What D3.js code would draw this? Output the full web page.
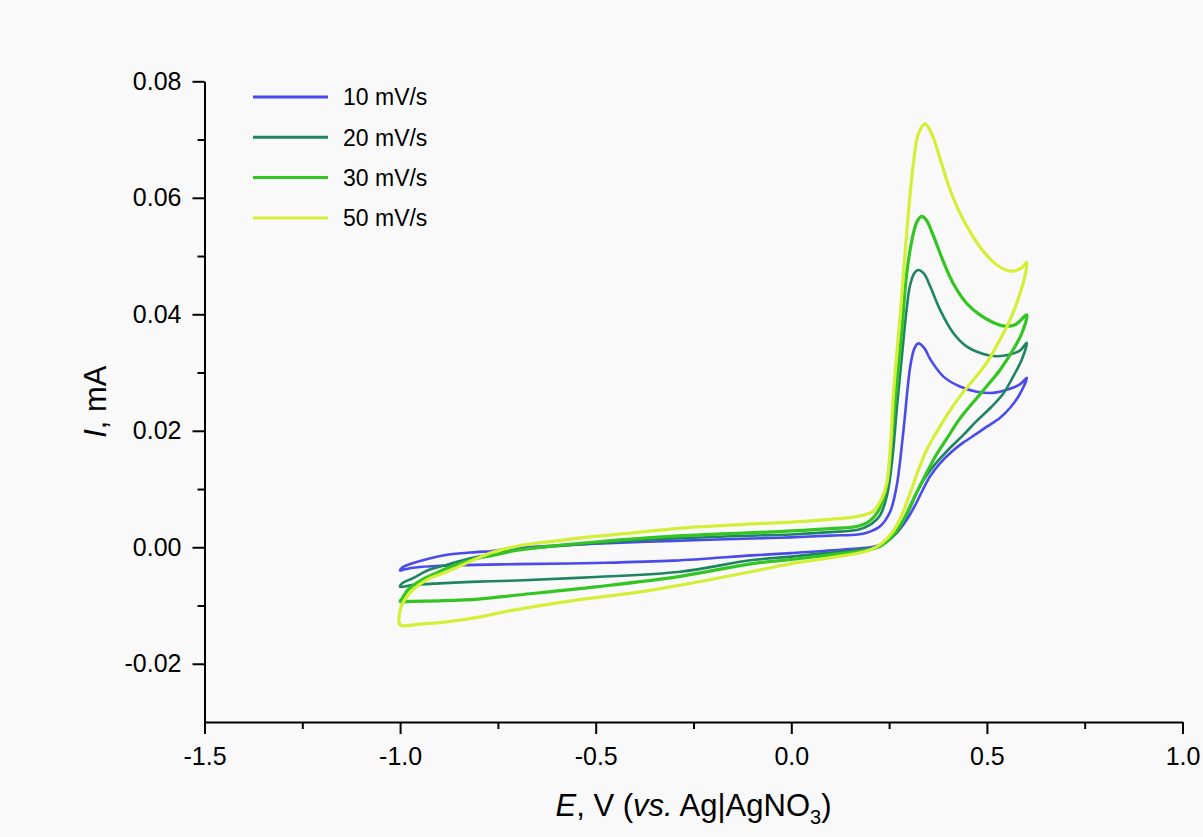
<!DOCTYPE html>
<html>
<head>
<meta charset="utf-8">
<script src="https://cdn.jsdelivr.net/npm/d3@7"></script>
<style>
  html, body { margin: 0; padding: 0; background: #f9f9f9; }
  svg { display: block; font-family: "Liberation Sans", Arial, sans-serif; }
</style>
</head>
<body>
<svg id="chart" width="1203" height="837"></svg>
<script>
// Cyclic voltammograms at four scan rates: [E (V), I (mA)] pairs along the scan.
const scanRates = ["10 mV/s", "20 mV/s", "30 mV/s", "50 mV/s"];
const seriesColors = ["#4a4aee", "#1f8462", "#33c522", "#d5ef38"];

const cv10 = [
  [-0.77,-0.0007],[-0.70,-0.0001],[-0.60,0.0003],[-0.50,0.0006],[-0.30,0.0011],[-0.10,0.0015],
  [0.00,0.0017],[0.10,0.0020],[0.17,0.0022],[0.193,0.0025],[0.227,0.0036],[0.252,0.0060],
  [0.269,0.0104],[0.286,0.0196],[0.304,0.0310],[0.315,0.0342],[0.325,0.0350],[0.34,0.0342],
  [0.355,0.0323],[0.389,0.0293],[0.431,0.0276],[0.474,0.0267],[0.516,0.0265],[0.559,0.0272],
  [0.585,0.0280],[0.602,0.0291],
  [0.585,0.0264],[0.56,0.0240],[0.533,0.0222],[0.50,0.0207],[0.474,0.0195],[0.44,0.0180],
  [0.41,0.0164],[0.38,0.0144],[0.354,0.0121],[0.335,0.0097],[0.315,0.0070],[0.295,0.0047],
  [0.27,0.0025],[0.24,0.0008],[0.21,0.0001],[0.15,-0.0003],[0.00,-0.0010],
  [-0.10,-0.0014],[-0.30,-0.0023],[-0.50,-0.0027],[-0.70,-0.0029],[-0.85,-0.0031],
  [-0.95,-0.0034],[-0.99,-0.0038],[-1.00,-0.0040],
  [-0.995,-0.0035],[-0.97,-0.0028],[-0.93,-0.0020],[-0.88,-0.0013],[-0.82,-0.0009],[-0.77,-0.0007]
];

const cv20 = [
  [-0.77,-0.0012],[-0.70,-0.0004],[-0.60,0.0002],[-0.50,0.0007],[-0.30,0.0015],[-0.10,0.0020],
  [0.00,0.0022],[0.10,0.0026],[0.17,0.0030],[0.20,0.0038],[0.227,0.0055],[0.245,0.0090],
  [0.258,0.0150],[0.27,0.0240],[0.283,0.0330],[0.295,0.0410],[0.303,0.0448],[0.314,0.0470],
  [0.325,0.0476],[0.34,0.0469],[0.355,0.0448],[0.38,0.0408],[0.414,0.0368],[0.448,0.0345],
  [0.491,0.0332],[0.525,0.0328],[0.559,0.0331],[0.585,0.0338],[0.602,0.0351],
  [0.589,0.0322],[0.567,0.0293],[0.542,0.0264],[0.51,0.0240],[0.474,0.0217],[0.44,0.0193],
  [0.405,0.0170],[0.38,0.0152],[0.354,0.0131],[0.335,0.0112],[0.32,0.0093],[0.295,0.0055],
  [0.265,0.0022],[0.23,0.0004],[0.20,-0.0002],[0.10,-0.0009],
  [0.00,-0.0016],[-0.10,-0.0022],[-0.284,-0.0042],[-0.50,-0.0051],[-0.70,-0.0057],
  [-0.80,-0.0059],[-0.90,-0.0062],[-0.97,-0.0065],[-1.00,-0.0068],
  [-0.995,-0.0062],[-0.967,-0.0053],[-0.93,-0.0040],[-0.88,-0.0030],[-0.82,-0.0019],[-0.77,-0.0012]
];

const cv30 = [
  [-0.77,-0.0015],[-0.70,-0.0005],[-0.60,0.0003],[-0.50,0.0009],[-0.30,0.0019],[-0.10,0.0025],
  [0.00,0.0028],[0.10,0.0032],[0.17,0.0036],[0.20,0.0045],[0.227,0.0068],[0.245,0.0110],
  [0.256,0.0180],[0.268,0.0270],[0.282,0.0368],[0.295,0.0470],[0.312,0.0539],[0.322,0.0560],
  [0.333,0.0568],[0.345,0.0562],[0.363,0.0535],[0.389,0.0490],[0.414,0.0453],[0.448,0.0419],
  [0.482,0.0399],[0.516,0.0386],[0.542,0.0380],[0.572,0.0382],[0.602,0.0399],
  [0.589,0.0367],[0.567,0.0339],[0.533,0.0304],[0.499,0.0276],[0.474,0.0256],[0.43,0.0220],
  [0.397,0.0186],[0.37,0.0158],[0.346,0.0128],[0.325,0.0100],[0.311,0.0081],[0.285,0.0045],
  [0.26,0.0020],[0.23,0.0003],[0.20,-0.0004],[0.10,-0.0013],
  [0.00,-0.0021],[-0.10,-0.0028],[-0.284,-0.0050],[-0.50,-0.0068],[-0.70,-0.0082],
  [-0.80,-0.0089],[-0.90,-0.0092],[-0.97,-0.0093],[-1.00,-0.0093],
  [-0.995,-0.0088],[-0.98,-0.0073],[-0.95,-0.0058],[-0.91,-0.0045],[-0.88,-0.0036],
  [-0.82,-0.0022],[-0.77,-0.0015]
];

const cv50 = [
  [-0.77,-0.0010],[-0.70,0.0002],[-0.60,0.0011],[-0.54,0.0016],[-0.40,0.0025],[-0.284,0.0033],
  [-0.10,0.0040],[0.00,0.0043],[0.10,0.0048],[0.17,0.0053],[0.209,0.0062],[0.232,0.0085],
  [0.244,0.0110],[0.253,0.0170],[0.26,0.0253],[0.268,0.0320],[0.278,0.0395],[0.295,0.0540],
  [0.311,0.0653],[0.325,0.0710],[0.342,0.0727],[0.36,0.0708],[0.38,0.0668],[0.40,0.0625],
  [0.42,0.0590],[0.44,0.0562],[0.465,0.0533],[0.491,0.0508],[0.516,0.0490],[0.542,0.0478],
  [0.567,0.0474],[0.589,0.0480],[0.602,0.0489],
  [0.597,0.0465],[0.585,0.0436],[0.559,0.0390],[0.533,0.0356],[0.499,0.0316],[0.465,0.0287],
  [0.431,0.0259],[0.40,0.0229],[0.37,0.0196],[0.346,0.0167],[0.325,0.0133],[0.311,0.0106],
  [0.295,0.0077],[0.285,0.0059],[0.26,0.0027],[0.23,0.0006],[0.20,-0.0005],[0.10,-0.0018],
  [0.00,-0.0028],[-0.08,-0.0039],[-0.284,-0.0065],[-0.40,-0.0078],[-0.54,-0.0090],
  [-0.71,-0.0108],[-0.80,-0.0120],[-0.88,-0.0128],[-0.95,-0.0132],[-1.00,-0.0133],
  [-1.00,-0.0108],[-0.99,-0.0092],[-0.967,-0.0073],[-0.93,-0.0055],[-0.88,-0.0042],
  [-0.82,-0.0024],[-0.77,-0.0010]
];

const allSeries = [cv10, cv20, cv30, cv50];

const xMajorTicks = [-1.5, -1.0, -0.5, 0.0, 0.5, 1.0];
const xMinorTicks = [-1.25, -0.75, -0.25, 0.25, 0.75];
const yMajorTicks = [-0.02, 0.00, 0.02, 0.04, 0.06, 0.08];
const yMinorTicks = [-0.01, 0.01, 0.03, 0.05, 0.07];

const W = 1203, H = 837;
const margin = { top: 81.3, right: 20.5, bottom: 115, left: 204.5 };

const svg = d3.select("#chart");
svg.append("rect").attr("width", W).attr("height", H).attr("fill", "#f9f9f9");

const x = d3.scaleLinear().domain([-1.5, 1.0]).range([margin.left, W - margin.right]);
const y = d3.scaleLinear().domain([-0.03, 0.08]).range([H - margin.bottom, margin.top]);

// Curves
const line = d3.line()
  .x(d => x(d[0]))
  .y(d => y(d[1]))
  .curve(d3.curveCatmullRom.alpha(0.5));

const widths = [2.6, 2.6, 3.2, 3.2];
svg.append("g").selectAll("path")
  .data(allSeries)
  .join("path")
  .attr("d", line)
  .attr("fill", "none")
  .attr("stroke", (d, i) => seriesColors[i])
  .attr("stroke-width", (d, i) => widths[i])
  .attr("stroke-linejoin", "round")
  .attr("stroke-linecap", "round");

// Axes
function styleAxis(g) {
  g.selectAll("path.domain").attr("stroke", "#000").attr("stroke-width", 2);
  g.selectAll(".tick line").attr("stroke", "#000").attr("stroke-width", 2);
  g.selectAll(".tick text").attr("fill", "#000").attr("font-size", 25)
    .attr("font-family", "'Liberation Sans', Arial, sans-serif");
}

svg.append("g")
  .attr("transform", `translate(0,${H - margin.bottom})`)
  .call(d3.axisBottom(x).tickValues(xMajorTicks).tickSize(12).tickSizeOuter(0)
    .tickPadding(13).tickFormat(d => d.toFixed(1)))
  .call(styleAxis);

svg.append("g")
  .attr("transform", `translate(0,${H - margin.bottom})`)
  .call(d3.axisBottom(x).tickValues(xMinorTicks).tickSize(7).tickFormat(""))
  .call(g => g.select(".domain").remove())
  .call(styleAxis);

svg.append("g")
  .attr("transform", `translate(${margin.left},0)`)
  .call(d3.axisLeft(y).tickValues(yMajorTicks).tickSize(12).tickSizeOuter(0)
    .tickPadding(11).tickFormat(d => d.toFixed(2)))
  .call(styleAxis);

svg.append("g")
  .attr("transform", `translate(${margin.left},0)`)
  .call(d3.axisLeft(y).tickValues(yMinorTicks).tickSize(7).tickFormat(""))
  .call(g => g.select(".domain").remove())
  .call(styleAxis);

// Axis titles
const xTitle = svg.append("text")
  .attr("x", (margin.left + W - margin.right) / 2)
  .attr("y", 816)
  .attr("text-anchor", "middle")
  .attr("font-size", 31)
  .attr("fill", "#000");
xTitle.append("tspan").attr("font-style", "italic").text("E");
xTitle.append("tspan").text(", V (");
xTitle.append("tspan").attr("font-style", "italic").text("vs.");
xTitle.append("tspan").text(" Ag|AgNO");
xTitle.append("tspan").attr("font-size", 20).attr("dy", 8).text("3");
xTitle.append("tspan").attr("dy", -8).text(")");

const yTitle = svg.append("text")
  .attr("transform", `translate(106,${(margin.top + H - margin.bottom) / 2}) rotate(-90)`)
  .attr("text-anchor", "middle")
  .attr("font-size", 31)
  .attr("fill", "#000");
yTitle.append("tspan").attr("font-style", "italic").text("I");
yTitle.append("tspan").text(", mA");

// Legend
const legend = svg.append("g").attr("transform", "translate(253,97)");
const rows = legend.selectAll("g")
  .data(scanRates)
  .join("g")
  .attr("transform", (d, i) => `translate(0,${i * 40.3})`);
rows.append("line")
  .attr("x1", 0).attr("x2", 75).attr("y1", 0).attr("y2", 0)
  .attr("stroke", (d, i) => seriesColors[i])
  .attr("stroke-width", 3);
rows.append("text")
  .attr("x", 90).attr("y", 0).attr("dy", "0.36em")
  .attr("font-size", 23)
  .attr("fill", "#000")
  .text(d => d);
</script>
</body>
</html>
